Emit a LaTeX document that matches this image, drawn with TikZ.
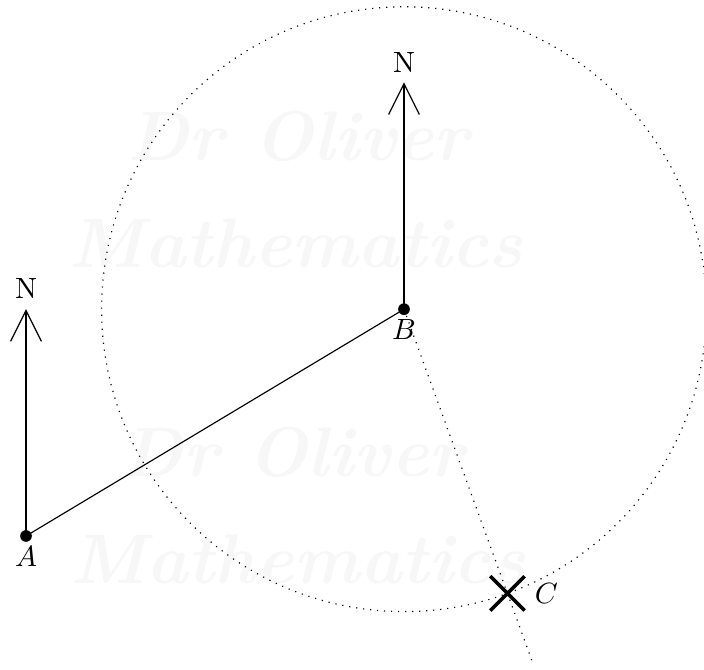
\documentclass[tikz,border=0pt]{standalone}
\usepackage{amsmath}
\usepackage{tikz}
\usetikzlibrary{arrows.meta, shapes.misc, calc}

\tikzset{
  norte/.style={-{Straight Barb[length=3.7mm, width=3.7mm]}},
  marca/.style={draw, cross out, very thick, minimum size=3.7mm, inner sep=0pt},
  marcadagua/.style={text=black!3, font=\fontsize{24}{24}\selectfont\bfseries\itshape}
}

\begin{document}
\begin{tikzpicture}[scale=0.4538]
  \useasboundingbox (-0.688,-3.519) rectangle (17.937,14.180);
  % marca d'agua
  \node[marcadagua] (wm1) at (7.20,10.58) {Dr Oliver};
  \node[marcadagua] (wm2) at (7.14,7.75) {Mathematics};
  \node[marcadagua] (wm3) at (7.06,2.22) {Dr Oliver};
  \node[marcadagua] (wm4) at (7.20,-0.63) {Mathematics};
  % pontos
  \coordinate (A) at (0,0);
  \coordinate (B) at (10,6);
  \coordinate (NA) at (0,6);
  \coordinate (NB) at (10,12);
  \coordinate (fim) at ($(B)+(-70:10)$);
  % circulo e direcao de B para C
  \draw[dotted] (B) circle (8);
  \draw[dotted] (B) -- (fim);
  \node[marca] (C) at ($(B)+(-70:8)$) {};
  \node[anchor=west] (labC) at (C.east) {$C$};
  % setas do norte
  \draw[norte] (A) -- (NA) node[above] (nA) {N};
  \draw[norte] (B) -- (NB) node[above] (nB) {N};
  % segmento AB
  \draw (A) -- (B);
  \fill (A) circle (4.4pt);
  \fill (B) circle (4.4pt);
  \node[below] (labA) at (A) {$A$};
  \node[below] (labB) at (B) {$B$};
\end{tikzpicture}
\end{document}
